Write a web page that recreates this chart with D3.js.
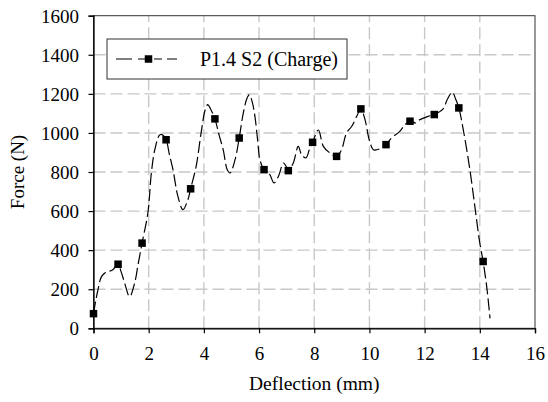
<!DOCTYPE html>
<html>
<head>
<meta charset="utf-8">
<script src="https://cdn.jsdelivr.net/npm/d3@7"></script>
<style>
  html, body { margin: 0; padding: 0; background: #fff; }
  svg { display: block; }
  text { font-family: "Liberation Serif", "Times New Roman", serif; fill: #000; }
</style>
</head>
<body>
<svg id="chart" width="548" height="402"></svg>
<script>
// Load–deflection record, specimen P1.4 S2 (charge)
const deflection = [0, 0.08, 0.16, 0.28, 0.4, 0.53, 0.7, 0.89, 1.0, 1.13, 1.31, 1.49, 1.62, 1.76, 1.97, 2.1, 2.23, 2.4, 2.5, 2.63, 2.75, 2.88, 3.06, 3.24, 3.42, 3.52, 3.72, 3.9, 4.05, 4.14, 4.25, 4.4, 4.55, 4.7, 4.85, 4.95, 5.13, 5.28, 5.43, 5.57, 5.65, 5.75, 5.85, 5.95, 6.03, 6.18, 6.39, 6.54, 6.7, 6.88, 6.97, 7.06, 7.24, 7.42, 7.54, 7.7, 7.84, 7.94, 8.15, 8.33, 8.57, 8.81, 8.99, 9.17, 9.36, 9.54, 9.69, 9.84, 9.99, 10.14, 10.26, 10.44, 10.6, 10.8, 11.1, 11.29, 11.47, 11.68, 11.83, 12.13, 12.35, 12.67, 12.82, 13.0, 13.13, 13.24, 13.4, 13.64, 13.82, 14.0, 14.12, 14.25, 14.37];
const force = [75, 140, 196, 262, 282, 290, 300, 328, 290, 231, 162, 231, 330, 436, 590, 800, 920, 990, 990, 965, 890, 812, 675, 607, 658, 714, 829, 1000, 1120, 1145, 1120, 1072, 990, 914, 810, 795, 863, 974, 1103, 1180, 1196, 1160, 1085, 960, 863, 812, 786, 744, 777, 846, 832, 807, 846, 931, 889, 872, 923, 952, 1015, 931, 897, 880, 914, 1000, 1034, 1085, 1123, 1068, 966, 914, 914, 923, 940, 974, 1008, 1043, 1060, 1051, 1068, 1085, 1094, 1123, 1171, 1208, 1171, 1128, 1017, 812, 624, 436, 342, 213, 51];

// Sampled readings shown with square markers
const markerDeflection = [0, 0.89, 1.76, 2.63, 3.52, 4.4, 5.28, 6.18, 7.06, 7.94, 8.81, 9.69, 10.6, 11.47, 12.35, 13.24, 14.12];
const markerForce = [75, 328, 436, 965, 714, 1072, 974, 812, 807, 952, 880, 1123, 940, 1060, 1094, 1128, 342];

const xTicks = [0, 2, 4, 6, 8, 10, 12, 14, 16];
const yTicks = [0, 200, 400, 600, 800, 1000, 1200, 1400, 1600];
const seriesName = "P1.4 S2 (Charge)";
const xTitle = "Deflection (mm)";
const yTitle = "Force (N)";

const svg = d3.select("#chart");
const plotL = 93.5, plotR = 535, plotT = 15.7, plotB = 328.3;
const serif = "'Liberation Serif', 'Times New Roman', serif";

const x = d3.scaleLinear().domain([0, 16]).range([plotL, plotR]);
const y = d3.scaleLinear().domain([0, 1600]).range([plotB, plotT]);

// Dashed grid
const grid = svg.append("g").attr("stroke", "#c8c8c8").attr("stroke-width", 1.4)
  .attr("stroke-dasharray", "12,5");
grid.selectAll("line.gx").data(xTicks.slice(1, -1)).join("line")
  .attr("x1", d => x(d)).attr("x2", d => x(d))
  .attr("y1", plotB).attr("y2", plotT);
grid.selectAll("line.gy").data(yTicks.slice(1, -1)).join("line")
  .attr("x1", plotL).attr("x2", plotR)
  .attr("y1", d => y(d)).attr("y2", d => y(d));

// Plot frame
svg.append("rect")
  .attr("x", plotL).attr("y", plotT)
  .attr("width", plotR - plotL).attr("height", plotB - plotT)
  .attr("fill", "none").attr("stroke", "#333").attr("stroke-width", 1);

// Axes
const xAxis = svg.append("g").attr("transform", `translate(0,${plotB})`)
  .call(d3.axisBottom(x).tickValues(xTicks).tickFormat(d3.format("d")).tickSize(5));
xAxis.attr("font-family", null).attr("font-size", null);
xAxis.select(".domain").attr("stroke", "#000").attr("stroke-width", 1.3);
xAxis.selectAll(".tick line").attr("stroke", "#000").attr("stroke-width", 1.2);
xAxis.selectAll(".tick text").attr("y", 31.7).attr("dy", 0)
  .style("font-family", serif).style("font-size", "19px");

const yAxis = svg.append("g").attr("transform", `translate(${plotL},0)`)
  .call(d3.axisLeft(y).tickValues(yTicks).tickFormat(d3.format("d")).tickSize(5).tickPadding(9.5));
yAxis.attr("font-family", null).attr("font-size", null);
yAxis.select(".domain").attr("stroke", "#000").attr("stroke-width", 1.3);
yAxis.selectAll(".tick line").attr("stroke", "#000").attr("stroke-width", 1.2);
yAxis.selectAll(".tick text").attr("dy", "0.34em")
  .style("font-family", serif).style("font-size", "19px");

// Axis titles
svg.append("text").attr("x", (plotL + plotR) / 2).attr("y", 390)
  .attr("text-anchor", "middle").style("font-size", "19.5px").text(xTitle);
svg.append("text").attr("transform", `translate(24,${(plotT + plotB) / 2}) rotate(-90)`)
  .attr("text-anchor", "middle").style("font-size", "19px").text(yTitle);

// Curve
const pts = deflection.map((d, i) => [d, force[i]]);
const line = d3.line().x(d => x(d[0])).y(d => y(d[1])).curve(d3.curveCatmullRom.alpha(0.5));
svg.append("path").datum(pts).attr("d", line)
  .attr("fill", "none").attr("stroke", "#000").attr("stroke-width", 1.2)
  .attr("stroke-dasharray", "12,4");

// Markers
const ms = 7.5;
svg.selectAll("rect.mk").data(markerDeflection).join("rect")
  .attr("class", "mk")
  .attr("x", d => x(d) - ms / 2)
  .attr("y", (d, i) => y(markerForce[i]) - ms / 2)
  .attr("width", ms).attr("height", ms).attr("fill", "#000");

// Legend
const lg = svg.append("g");
lg.append("rect").attr("x", 107).attr("y", 39).attr("width", 240).attr("height", 40)
  .attr("fill", "#fff").attr("stroke", "#333").attr("stroke-width", 1);
lg.append("line").attr("x1", 116).attr("x2", 177).attr("y1", 59).attr("y2", 59)
  .attr("stroke", "#000").attr("stroke-width", 1.2).attr("stroke-dasharray", "16,6,8,8,8,5");
lg.append("rect").attr("x", 148.5 - ms / 2).attr("y", 59 - ms / 2)
  .attr("width", ms).attr("height", ms).attr("fill", "#000");
lg.append("text").attr("x", 200).attr("y", 66).style("font-size", "20px").text(seriesName);
</script>
</body>
</html>
